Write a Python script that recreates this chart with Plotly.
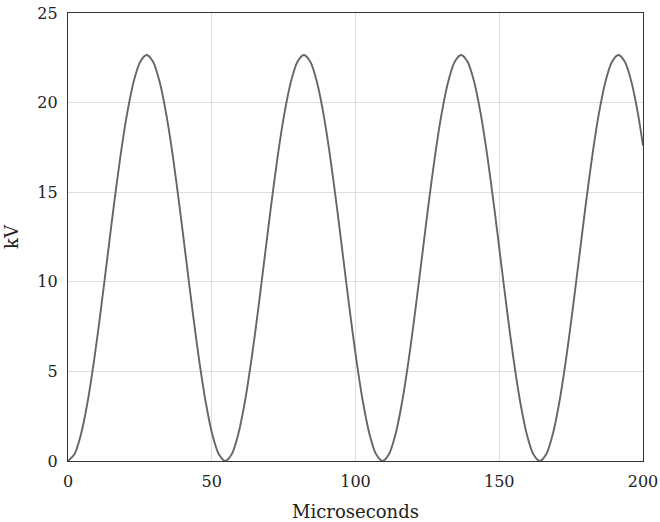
import plotly.graph_objects as go

# Time samples (microseconds)
time_us = [0, 2.28, 4.56, 6.84, 9.12, 11.40, 13.68, 15.95, 18.23, 20.51, 22.79, 25.07,
           27.35, 29.63, 31.91, 34.19, 36.47, 38.75, 41.03, 43.30, 45.58, 47.86, 50.14, 52.42,
           54.70, 56.98, 59.26, 61.54, 63.82, 66.10, 68.38, 70.65, 72.93, 75.21, 77.49, 79.77,
           82.05, 84.33, 86.61, 88.89, 91.17, 93.45, 95.73, 98.00, 100.28, 102.56, 104.84, 107.12,
           109.40, 111.68, 113.96, 116.24, 118.52, 120.80, 123.08, 125.35, 127.63, 129.91, 132.19, 134.47,
           136.75, 139.03, 141.31, 143.59, 145.87, 148.15, 150.43, 152.70, 154.98, 157.26, 159.54, 161.82,
           164.10, 166.38, 168.66, 170.94, 173.22, 175.50, 177.78, 180.05, 182.33, 184.61, 186.89, 189.17,
           191.45, 193.73, 196.01, 198.29, 200.0]

# Voltage (kV)
voltage_kv = [0, 0.39, 1.52, 3.32, 5.67, 8.40, 11.33, 14.26, 17.00, 19.34, 21.14, 22.27,
              22.66, 22.27, 21.14, 19.34, 17.00, 14.26, 11.33, 8.40, 5.67, 3.32, 1.52, 0.39,
              0, 0.39, 1.52, 3.32, 5.67, 8.40, 11.33, 14.26, 17.00, 19.34, 21.14, 22.27,
              22.66, 22.27, 21.14, 19.34, 17.00, 14.26, 11.33, 8.40, 5.67, 3.32, 1.52, 0.39,
              0, 0.39, 1.52, 3.32, 5.67, 8.40, 11.33, 14.26, 17.00, 19.34, 21.14, 22.27,
              22.66, 22.27, 21.14, 19.34, 17.00, 14.26, 11.33, 8.40, 5.67, 3.32, 1.52, 0.39,
              0, 0.39, 1.52, 3.32, 5.67, 8.40, 11.33, 14.26, 17.00, 19.34, 21.14, 22.27,
              22.66, 22.27, 21.14, 19.34, 17.6]

x_ticks = [0, 50, 100, 150, 200]
y_ticks = [0, 5, 10, 15, 20, 25]

FONT = "DejaVu Serif"
TXT = "#222222"

fig = go.Figure()
fig.add_trace(go.Scatter(
    x=time_us, y=voltage_kv, mode="lines",
    line=dict(color="#666666", width=1.9, shape="spline", smoothing=0.8),
    hoverinfo="skip", showlegend=False,
))

axis_common = dict(
    showgrid=True, gridcolor="#dedede", gridwidth=1,
    showline=True, linecolor="#333333", linewidth=1.3, mirror=True,
    zeroline=False, automargin=False,
    ticks="outside", ticklen=6, tickcolor="rgba(0,0,0,0)",
    tickfont=dict(family=FONT, size=16, color=TXT),
)

fig.update_xaxes(range=[0, 200], tickvals=x_ticks,
                 title=dict(text="Microseconds", font=dict(family=FONT, size=18, color=TXT), standoff=15),
                 **axis_common)
fig.update_yaxes(range=[0, 25], tickvals=y_ticks,
                 title=dict(text="kV", font=dict(family=FONT, size=18, color=TXT), standoff=13),
                 **axis_common)

fig.update_layout(
    width=660, height=522,
    margin=dict(l=68, r=17, t=13, b=61),
    paper_bgcolor="white", plot_bgcolor="white",
    font=dict(family=FONT, size=16, color=TXT),
)

fig.write_html("out.html", config={"displayModeBar": False},
               post_script="document.body.style.margin='0';document.body.style.overflow='hidden';")
